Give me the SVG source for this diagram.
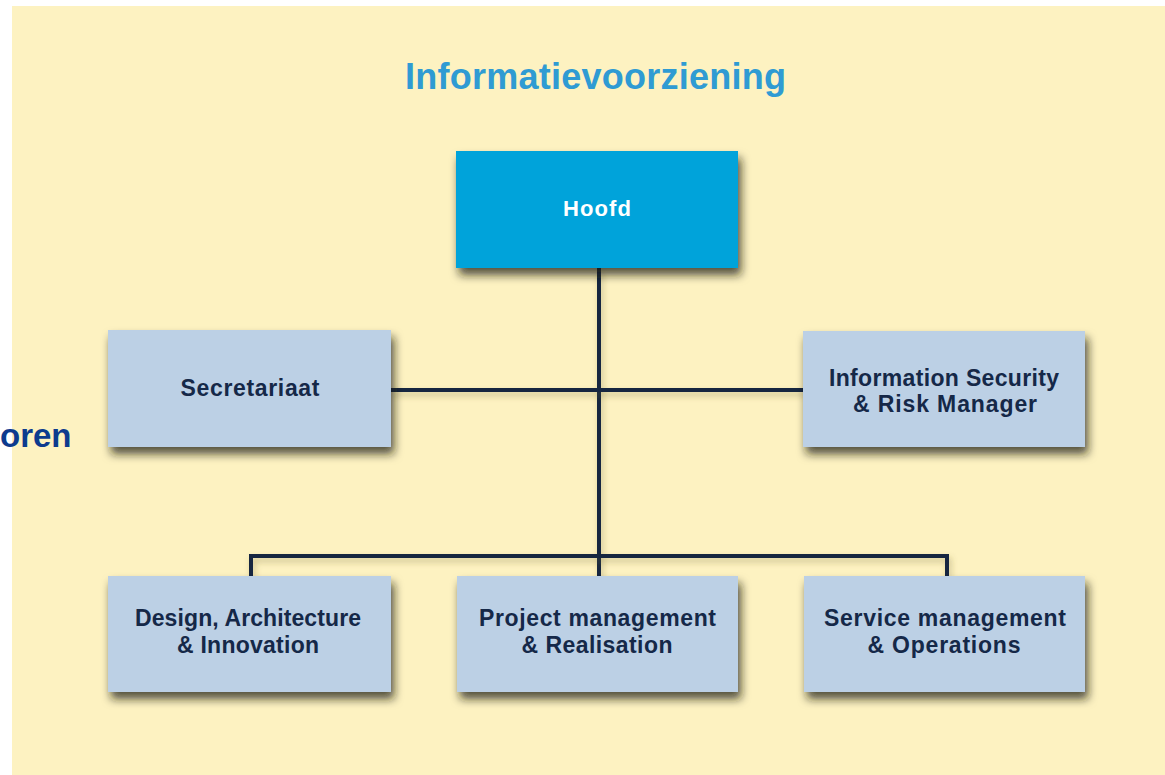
<svg xmlns="http://www.w3.org/2000/svg" width="1165" height="775" viewBox="0 0 1165 775">
  <defs>
    <filter id="boxShadow" x="-10%" y="-10%" width="125%" height="145%">
      <feDropShadow dx="3" dy="7" stdDeviation="5" flood-color="#1f1d10" flood-opacity="0.75"/>
    </filter>
    <filter id="lineShadow" filterUnits="userSpaceOnUse" x="0" y="0" width="1165" height="775">
      <feDropShadow dx="2" dy="4" stdDeviation="3" flood-color="#6b5f2a" flood-opacity="0.35"/>
    </filter>
  </defs>
  <style>
    .box { fill: #BCD0E5; filter: url(#boxShadow); }
    .head { fill: #00A3DA; filter: url(#boxShadow); }
    .lbl { font-family: "Liberation Sans", Arial, sans-serif; font-weight: bold; font-size: 23px; fill: #152848; text-anchor: middle; }
    .lblw { font-family: "Liberation Sans", Arial, sans-serif; font-weight: bold; font-size: 22px; fill: #FFFFFF; text-anchor: middle; }
    .conn { fill: none; stroke: #152540; stroke-width: 4; filter: url(#lineShadow); }
  </style>
  <rect x="0" y="0" width="1165" height="775" fill="#FFFFFF"/>
  <rect x="12" y="6" width="1153" height="769" fill="#FDF2C1"/>

  <text x="0" y="447" font-family="Liberation Sans, Arial, sans-serif" font-weight="bold" font-size="33" fill="#0D3B8E">oren</text>

  <text x="595.5" y="89" font-family="Liberation Sans, Arial, sans-serif" font-weight="bold" font-size="36" fill="#2F9BD3" text-anchor="middle" textLength="381" lengthAdjust="spacing">Informatievoorziening</text>

  <g id="connectors">
    <path class="conn" d="M599,268 V576"/>
    <path class="conn" d="M391,390 H803"/>
    <path class="conn" d="M251,576 V556 H947 V576"/>
  </g>

  <g id="hoofd">
    <rect class="head" x="456" y="151" width="282" height="117"/>
    <text class="lblw" x="597" y="216" textLength="68" lengthAdjust="spacing">Hoofd</text>
  </g>

  <g id="secretariaat">
    <rect class="box" x="108" y="330" width="283" height="117"/>
    <text class="lbl" x="250" y="396" textLength="139" lengthAdjust="spacing">Secretariaat</text>
  </g>

  <g id="isrm">
    <rect class="box" x="803" y="331" width="282" height="116"/>
    <text class="lbl" x="944" y="386" textLength="230" lengthAdjust="spacing">Information Security</text>
    <text class="lbl" x="945" y="412" textLength="184" lengthAdjust="spacing">&amp; Risk Manager</text>
  </g>

  <g id="design">
    <rect class="box" x="108" y="576" width="283" height="116"/>
    <text class="lbl" x="248" y="626" textLength="226" lengthAdjust="spacing">Design, Architecture</text>
    <text class="lbl" x="248" y="653" textLength="142" lengthAdjust="spacing">&amp; Innovation</text>
  </g>

  <g id="project">
    <rect class="box" x="457" y="576" width="281" height="116"/>
    <text class="lbl" x="597.5" y="626" textLength="237" lengthAdjust="spacing">Project management</text>
    <text class="lbl" x="597" y="653" textLength="151" lengthAdjust="spacing">&amp; Realisation</text>
  </g>

  <g id="service">
    <rect class="box" x="804" y="576" width="281" height="116"/>
    <text class="lbl" x="945" y="626" textLength="242" lengthAdjust="spacing">Service management</text>
    <text class="lbl" x="944" y="653" textLength="153" lengthAdjust="spacing">&amp; Operations</text>
  </g>
</svg>
